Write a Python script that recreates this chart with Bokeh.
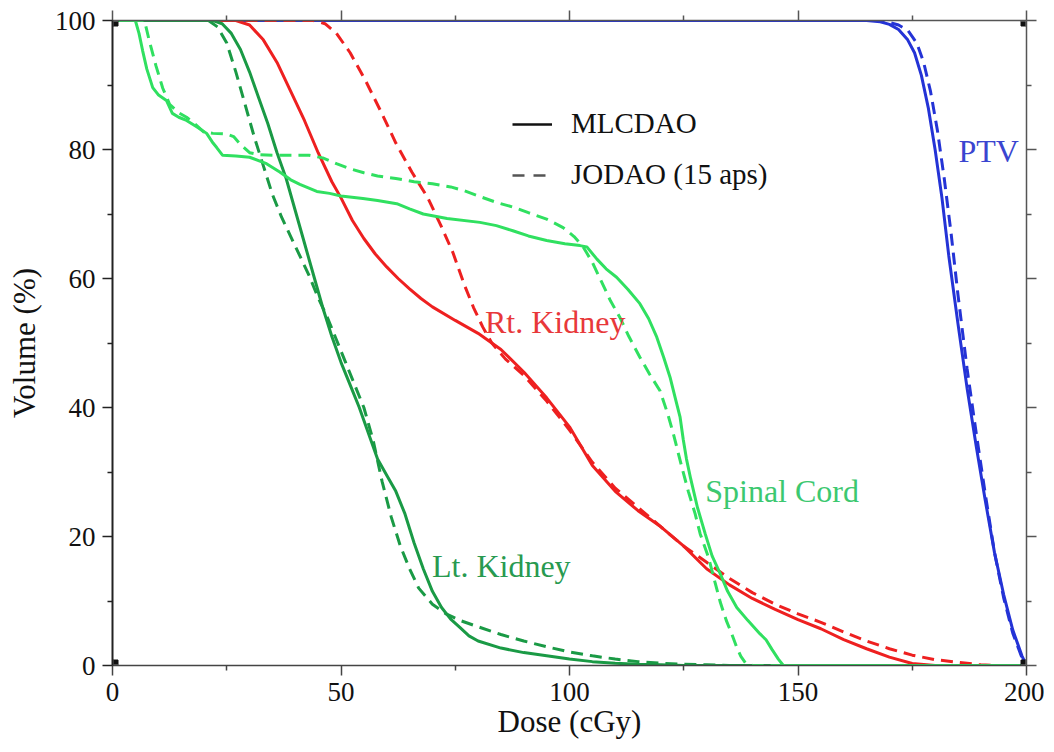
from bokeh.plotting import figure
from bokeh.models import LinearAxis, FixedTicker, Legend, LegendItem, Label
from bokeh.embed import file_html
from bokeh.resources import INLINE

# ---------------- data ----------------
x_ticks = [0, 50, 100, 150, 200]
x_minor = [25, 75, 125, 175]
y_ticks = [0, 20, 40, 60, 80, 100]
y_minor = [10, 30, 50, 70, 90]
x_lim = (0, 200)
y_lim = (0, 100)

# PTV
ptv_dose_mlc = [0, 165, 168, 170, 172, 174, 175.5, 177, 178.5, 180, 181.5, 183, 185, 187, 189, 191, 193, 195, 197, 199, 200]
ptv_vol_mlc = [100, 100, 99.8, 99.4, 98.6, 97, 95, 91.5, 86.5, 80, 72.5, 63.5, 53, 43, 34, 25.5, 17.5, 11, 5.5, 1.5, 0]
ptv_dose_jo = [0, 167, 170, 172, 174, 176, 177.5, 179, 180.5, 182, 183.5, 185, 187, 189, 191, 193, 195, 197, 199, 200]
ptv_vol_jo = [100, 100, 99.7, 99.3, 98.5, 96.5, 93.5, 89, 83, 75.5, 67, 57.5, 46, 36, 26.5, 17.5, 10.5, 5, 1.2, 0]

# Rt. Kidney
rt_dose_mlc = [0, 27, 30, 33, 36, 39, 42, 45, 48, 50, 52.5, 55, 57.5, 60, 62.5, 65, 67.5, 70, 75, 80, 85, 90, 95, 100,
               105, 110, 115, 120, 125, 130, 135, 140, 145, 150, 155, 160, 165, 170, 175, 180, 200]
rt_vol_mlc = [100, 100, 99.3, 97, 93.5, 89, 84.5, 79.5, 75, 72.5, 69, 66.2, 63.8, 61.8, 60, 58.4, 56.9, 55.6, 53.5, 51.5,
              49, 45.5, 41.5, 37,
              31, 27, 24, 21.5, 18.5, 15, 12.5, 10.4, 8.7, 7.1, 5.7, 4, 2.6, 1.3, 0.3, 0, 0]
rt_dose_jo = [0, 44, 46.5, 49, 52, 55.5, 59, 62, 65.5, 69, 72, 74.5, 77, 79, 81, 83, 86, 90, 95, 100,
              105, 110, 115, 120, 125, 130, 135, 140, 145, 150, 155, 160, 165, 170, 175, 180, 185, 190, 193, 200]
rt_vol_jo = [100, 100, 99.5, 98, 95, 90.5, 85.5, 81, 76.5, 72.5, 68, 64, 59, 55.5, 52.5, 50, 47.5, 45, 41, 36.5,
             31.5, 27.5, 24.5, 21.5, 18.5, 16, 13.5, 11.3, 9.5, 8, 6.7, 5.2, 3.8, 2.6, 1.6, 0.9, 0.5, 0.1, 0, 0]

# Lt. Kidney
lt_dose_mlc = [0, 22, 24, 26, 28, 30, 32, 34, 36, 38, 40, 42, 44, 46, 48, 50, 52, 54, 56, 58, 60, 62, 64, 66, 68,
               70, 72, 74, 76, 78, 80, 85, 90, 95, 100, 105, 110, 115, 120, 125, 200]
lt_vol_mlc = [100, 100, 99.5, 98, 95.5, 92, 88, 84, 79.5, 75.5, 70.5, 65.5, 60.5, 55.5, 51, 47, 43.5, 40, 36, 32,
              29.5, 27, 23.5, 19, 15, 11.5, 9, 7.2, 5.9, 4.6, 3.8, 2.7, 2, 1.5, 1, 0.6, 0.35, 0.2, 0.1, 0, 0]
lt_dose_jo = [0, 21, 23, 25, 27, 29, 31, 33, 35, 37, 39, 41, 43, 45, 47, 49, 51, 53, 55, 57, 59, 61, 63, 65, 67,
              70, 73, 76, 80, 85, 90, 95, 100, 105, 110, 115, 120, 125, 130, 135, 200]
lt_vol_jo = [100, 100, 99, 96.5, 92, 87, 82, 77.5, 73, 69.5, 66.5, 63.5, 60.5, 57, 54, 50.5, 47, 43.5, 40, 35,
             28.5, 23, 18.5, 15, 12, 9.5, 8, 7, 6, 4.8, 3.8, 2.9, 2.1, 1.5, 1, 0.6, 0.35, 0.2, 0.1, 0, 0]

# Spinal Cord
sc_dose_mlc = [0, 5, 5.8, 6.6, 7.5, 8.8, 10, 11.8, 13.1, 14.5, 16.2, 18.5, 20.6, 22, 22.8, 24.1, 27, 30, 33.7, 36.6,
               39, 41, 44.7, 47.5, 50, 54.8, 58, 62.2, 65, 68, 73.2, 80.4, 84, 87.6, 91, 95, 99, 102.3, 103.8, 106,
               108, 110.3, 112.8, 115.4, 117.3, 119.1, 120.6, 122, 123.2, 124.2, 124.9, 125.6, 126.5, 128, 129.7,
               131.2, 133, 134.6, 136.6, 139, 141.7, 143, 144.3, 145.7, 146.8, 200]
sc_vol_mlc = [100, 100, 98, 95.3, 92.5, 89.6, 88.5, 87.6, 85.6, 85, 84.5, 83.5, 82.5, 81, 80.3, 79.1, 79, 78.8, 77.8, 76.5,
              75.3, 74.6, 73.5, 73.2, 72.8, 72.4, 72.1, 71.6, 70.8, 70, 69.3, 68.7, 68.2, 67.4, 66.6, 65.9, 65.4, 65.1, 64.9, 63,
              61.5, 60.2, 58.3, 56.1, 53.8, 50.9, 47.8, 44.7, 41.3, 38.5, 35, 32, 29, 24.5, 20.4,
              17, 14.2, 11.5, 9, 7, 4.9, 4, 2.5, 1, 0, 0]
sc_dose_jo = [0, 7, 8, 9.5, 11, 12.5, 14.5, 16.2, 18, 20, 22, 25, 26.5, 28, 30, 32, 36, 43, 46, 49,
              52, 55, 58, 62, 66, 70, 74, 77, 80, 84, 88, 91, 95, 98.6, 101, 103, 105, 107, 109, 111,
              113, 115.4, 117.5, 119.8, 121.5, 122.7, 124.6, 126, 127.5, 128.6, 130.4, 131.8, 133, 134.3, 135.5,
              136.6, 137.5, 138.5, 140, 200]
sc_vol_jo = [100, 100, 97, 93, 89.5, 87, 85.7, 85, 84, 82.7, 82.5, 82.4, 82, 80.8, 79.5, 79.2, 79.1, 79.1, 78.7, 77.8,
             77, 76.4, 75.9, 75.5, 75, 74.7, 74.2, 73.6, 72.8, 71.8, 71, 70.2, 69.2, 67.9, 66.5, 64.9, 62.5, 59.5, 56.5, 54,
             51, 47.8, 45.2, 42.6, 39, 36, 30.7, 27, 23.5, 20.4, 16.8, 13, 9.8, 7, 4.9,
             2.8, 1.4, 0.4, 0, 0]

legend_labels = ["MLCDAO", "JODAO (15 aps)"]
structure_names = ["PTV", "Rt. Kidney", "Spinal Cord", "Lt. Kidney"]

# ---------------- styling ----------------
FONT = "Liberation Serif"
C_PTV = "#2433d6"
C_RT = "#ee2020"
C_LT = "#1a9a45"
C_SC = "#30e060"
DASH = "12 7"
LW = 3

p = figure(width=1044, height=751, x_range=x_lim, y_range=y_lim,
           output_backend="svg", toolbar_location=None,
           min_border_left=112, min_border_right=18, min_border_top=20, min_border_bottom=86,
           x_axis_label="Dose (cGy)", y_axis_label="Volume (%)")
p.outline_line_color = None
p.grid.visible = False
p.background_fill_color = "white"


def style_axis(ax, ticks, minor, color, width, labels=True):
    ax.ticker = FixedTicker(ticks=ticks, minor_ticks=minor)
    ax.axis_line_color = color
    ax.axis_line_width = width
    ax.major_tick_line_color = color
    ax.minor_tick_line_color = color
    ax.major_tick_line_width = 1.5
    ax.minor_tick_line_width = 1.5
    ax.major_tick_out = 10
    ax.major_tick_in = 0
    ax.minor_tick_out = 5
    ax.minor_tick_in = 0
    if labels:
        ax.major_label_text_font = FONT
        ax.major_label_text_font_size = "27px"
        ax.major_label_text_color = "#111111"
        ax.major_label_standoff = 7
        ax.axis_label_text_font = FONT
        ax.axis_label_text_font_size = "31px"
        ax.axis_label_text_font_style = "normal"
        ax.axis_label_text_color = "#111111"
    else:
        ax.major_label_overrides = {t: "" for t in ticks}
        ax.major_label_text_font_size = "1px"
        ax.major_label_standoff = 0


style_axis(p.xaxis[0], x_ticks, x_minor, "#444444", 1.5)
p.xaxis[0].axis_label_standoff = 0
style_axis(p.yaxis[0], y_ticks, y_minor, "#222222", 2)
p.yaxis[0].axis_label_standoff = 10

top_ax = LinearAxis()
style_axis(top_ax, x_ticks, x_minor, "#555555", 1.5, labels=False)
p.add_layout(top_ax, "above")
right_ax = LinearAxis()
style_axis(right_ax, y_ticks, y_minor, "#555555", 1.5, labels=False)
p.add_layout(right_ax, "right")

# curves (draw order: PTV, red, dark green, light green)
series = [
    (ptv_dose_mlc, ptv_vol_mlc, ptv_dose_jo, ptv_vol_jo, C_PTV),
    (rt_dose_mlc, rt_vol_mlc, rt_dose_jo, rt_vol_jo, C_RT),
    (lt_dose_mlc, lt_vol_mlc, lt_dose_jo, lt_vol_jo, C_LT),
    (sc_dose_mlc, sc_vol_mlc, sc_dose_jo, sc_vol_jo, C_SC),
]
for xm, ym, xj, yj, col in series:
    p.line(xj, yj, line_color=col, line_width=LW, line_dash=DASH)
    p.line(xm, ym, line_color=col, line_width=LW)

# corner markers
cx = [x_lim[0], x_lim[0], x_lim[1], x_lim[1]]
cy = [y_lim[0], y_lim[1], y_lim[0], y_lim[1]]
p.scatter(cx, cy, marker="square", size=11, fill_color="#111111", line_color="#111111")
p.scatter(cx, cy, marker="cross", size=11, line_color="white", line_width=1.5)

# legend (proxy renderers with a single NaN point so nothing is drawn in the frame)
nan = float("nan")
r_solid = p.line(x=[nan], y=[nan], line_color="#111111", line_width=2.5)
r_dash = p.line(x=[nan], y=[nan], line_color="#555555", line_width=2.5, line_dash="12 9")
legend = Legend(items=[LegendItem(label=legend_labels[0], renderers=[r_solid]),
                       LegendItem(label=legend_labels[1], renderers=[r_dash])],
                location=(400, 474), orientation="vertical",
                label_text_font=FONT, label_text_font_size="29px", label_text_color="#111111",
                glyph_width=40, glyph_height=30, label_height=30, spacing=18,
                label_standoff=19, padding=0, margin=0,
                border_line_color=None, background_fill_alpha=0)
p.add_layout(legend)

# structure labels
label_specs = [
    (structure_names[0], 185.1, 79.8, "#3a45d0"),
    (structure_names[1], 81.5, 53.2, "#e8383a"),
    (structure_names[2], 129.7, 27.1, "#3cc870"),
    (structure_names[3], 69.9, 15.5, "#289a50"),
]
for txt, lx, ly, col in label_specs:
    p.add_layout(Label(x=lx, y=ly, text=txt, text_font=FONT, text_font_size="32px",
                       text_color=col, text_baseline="middle", text_align="left"))

open("out.html", "w").write(file_html(p, INLINE))
